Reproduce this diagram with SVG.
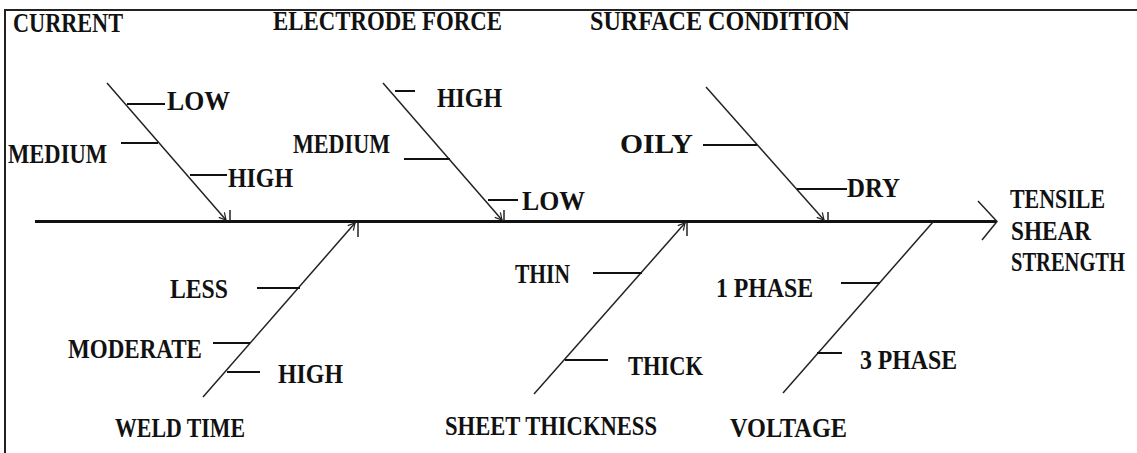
<svg xmlns="http://www.w3.org/2000/svg" width="1137" height="453" viewBox="0 0 1137 453">
<style>
text{font-family:"Liberation Serif","Times New Roman",serif;font-weight:bold;font-size:27px;fill:#111;}
.bone{stroke:#222;stroke-width:1.5;fill:none;}
.sub{stroke:#111;stroke-width:2;fill:none;}
.tick{stroke:#222;stroke-width:1.5;fill:none;}
.frame{stroke:#222;stroke-width:2;fill:none;}
</style>
<defs>
<marker id="arr" viewBox="-10 -6 12 12" refX="0" refY="0" markerWidth="9" markerHeight="9" markerUnits="userSpaceOnUse" orient="auto">
<path d="M-9,-5 L0,0 L-9,5" fill="none" stroke="#222" stroke-width="1.6"/>
</marker>
</defs>
<rect width="1137" height="453" fill="#fff"/>
<g id="frame">
<path class="frame" d="M5,453 L5,10 L1137,10"/>
</g>
<g id="connectors">
<line x1="35" y1="221.5" x2="997" y2="221.5" stroke="#111" stroke-width="2.8"/>
<polyline points="978,201 997,221.5 982,240" fill="none" stroke="#222" stroke-width="1.5"/>
<line class="bone" x1="107" y1="83" x2="226" y2="220" marker-end="url(#arr)"/>
<line class="tick" x1="230" y1="210" x2="230" y2="221"/>
<line class="bone" x1="383" y1="83" x2="502" y2="220" marker-end="url(#arr)"/>
<line class="tick" x1="504" y1="210" x2="504" y2="221"/>
<line class="bone" x1="706" y1="87" x2="824" y2="220" marker-end="url(#arr)"/>
<line class="tick" x1="828" y1="212" x2="828" y2="221"/>
<line class="bone" x1="203" y1="397" x2="355" y2="223" marker-end="url(#arr)"/>
<line class="tick" x1="358" y1="223" x2="358" y2="237"/>
<line class="bone" x1="534" y1="394" x2="685" y2="223" marker-end="url(#arr)"/>
<line class="tick" x1="687" y1="223" x2="687" y2="236"/>
<line class="bone" x1="783" y1="393" x2="933" y2="222"/>
</g>
<g id="effect">
<text x="1010" y="208" textLength="95" lengthAdjust="spacingAndGlyphs">TENSILE</text>
<text x="1011" y="240" textLength="80" lengthAdjust="spacingAndGlyphs">SHEAR</text>
<text transform="translate(1011,271) scale(0.76,1)" x="0" y="0">STRENGTH</text>
</g>
<g id="current">
<text x="13" y="32" textLength="110" lengthAdjust="spacingAndGlyphs">CURRENT</text>
<line class="sub" x1="127" y1="104" x2="165" y2="104"/>
<text x="167" y="110" textLength="63" lengthAdjust="spacingAndGlyphs">LOW</text>
<line class="sub" x1="121" y1="143" x2="158" y2="143"/>
<text x="8" y="163" textLength="99" lengthAdjust="spacingAndGlyphs">MEDIUM</text>
<line class="sub" x1="190" y1="175" x2="227" y2="175"/>
<text x="228" y="187" textLength="65" lengthAdjust="spacingAndGlyphs">HIGH</text>
</g>
<g id="electrode-force">
<text x="273" y="30" textLength="229" lengthAdjust="spacingAndGlyphs">ELECTRODE FORCE</text>
<line class="sub" x1="395" y1="91" x2="415" y2="91"/>
<text x="437" y="107" textLength="65" lengthAdjust="spacingAndGlyphs">HIGH</text>
<line class="sub" x1="404" y1="159" x2="450" y2="159"/>
<text x="293" y="153" textLength="97" lengthAdjust="spacingAndGlyphs">MEDIUM</text>
<line class="sub" x1="488" y1="200" x2="518" y2="200"/>
<text x="522" y="210" textLength="63" lengthAdjust="spacingAndGlyphs">LOW</text>
</g>
<g id="surface-condition">
<text x="590" y="30" textLength="260" lengthAdjust="spacingAndGlyphs">SURFACE CONDITION</text>
<line class="sub" x1="703" y1="145" x2="757" y2="145"/>
<text x="620" y="153" textLength="73" lengthAdjust="spacingAndGlyphs">OILY</text>
<line class="sub" x1="797" y1="189" x2="847" y2="189"/>
<text x="847" y="197" textLength="53" lengthAdjust="spacingAndGlyphs">DRY</text>
</g>
<g id="weld-time">
<line class="sub" x1="257" y1="288" x2="300" y2="288"/>
<text x="170" y="298" textLength="58" lengthAdjust="spacingAndGlyphs">LESS</text>
<line class="sub" x1="213" y1="343" x2="250" y2="343"/>
<text x="68" y="358" textLength="134" lengthAdjust="spacingAndGlyphs">MODERATE</text>
<line class="sub" x1="227" y1="372" x2="260" y2="372"/>
<text x="278" y="383" textLength="65" lengthAdjust="spacingAndGlyphs">HIGH</text>
<text x="115" y="437" textLength="130" lengthAdjust="spacingAndGlyphs">WELD TIME</text>
</g>
<g id="sheet-thickness">
<line class="sub" x1="593" y1="273" x2="642" y2="273"/>
<text x="515" y="283" textLength="55" lengthAdjust="spacingAndGlyphs">THIN</text>
<line class="sub" x1="565" y1="360" x2="608" y2="360"/>
<text x="628" y="375" textLength="75" lengthAdjust="spacingAndGlyphs">THICK</text>
<text x="445" y="435" textLength="212" lengthAdjust="spacingAndGlyphs">SHEET THICKNESS</text>
</g>
<g id="voltage">
<line class="sub" x1="841" y1="283" x2="880" y2="283"/>
<text x="716" y="297" textLength="97" lengthAdjust="spacingAndGlyphs">1 PHASE</text>
<line class="sub" x1="817" y1="353" x2="842" y2="353"/>
<text x="860" y="369" textLength="97" lengthAdjust="spacingAndGlyphs">3 PHASE</text>
<text x="730" y="437" textLength="117" lengthAdjust="spacingAndGlyphs">VOLTAGE</text>
</g>
</svg>
